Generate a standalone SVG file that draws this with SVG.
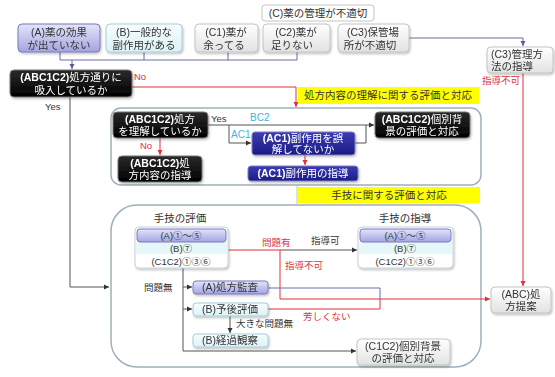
<svg xmlns="http://www.w3.org/2000/svg" width="555" height="377" viewBox="0 0 555 377">
<style>
text{font-family:"Liberation Sans","Noto Sans CJK JP",sans-serif;font-size:10.5px;fill:#333;text-anchor:middle}
.j{font-family:"Noto Sans CJK JP",sans-serif}
.st{font-size:9.5px}
.w{fill:#fff}
.b{font-weight:bold}
.s{font-size:9.5px}
.r{fill:#e0303c}
.l{text-anchor:start}
.cy{fill:#3fb4dc;font-size:10px}
.ln{fill:none;stroke:#555;stroke-width:1}
.lp{fill:none;stroke:#6a6aa8;stroke-width:1}
.lr{fill:none;stroke:#e0303c;stroke-width:1}
.lg{fill:none;stroke:#b8c4c8;stroke-width:1}
.box{stroke:#c4c4c4;stroke-width:1}
.pur{fill:url(#gp);stroke:#7a7ac0;stroke-width:1}
.cyb{fill:url(#gc);stroke:#a8cdd6;stroke-width:1}
.gry{fill:url(#gg);stroke:#c4c4c4;stroke-width:1}
.blk{fill:url(#gk);stroke:#777;stroke-width:1}
.blu{fill:url(#gb);stroke:#8080c0;stroke-width:1}
.cont{fill:#fff;stroke:#9fb0b8;stroke-width:1.5}
.yel{fill:#ffff00}
</style>
<defs>
<linearGradient id="gp" x1="0" y1="0" x2="0" y2="1"><stop offset="0" stop-color="#e4e4fb"/><stop offset="1" stop-color="#a4a4e0"/></linearGradient>
<linearGradient id="gc" x1="0" y1="0" x2="0" y2="1"><stop offset="0" stop-color="#f6fdfe"/><stop offset="1" stop-color="#dcf2f6"/></linearGradient>
<linearGradient id="gg" x1="0" y1="0" x2="0" y2="1"><stop offset="0" stop-color="#ffffff"/><stop offset="1" stop-color="#e2e2e2"/></linearGradient>
<linearGradient id="gk" x1="0" y1="0" x2="0" y2="1"><stop offset="0" stop-color="#2a2a2a"/><stop offset="1" stop-color="#000"/></linearGradient>
<linearGradient id="gb" x1="0" y1="0" x2="0" y2="1"><stop offset="0" stop-color="#3c3cb4"/><stop offset="1" stop-color="#1c1c84"/></linearGradient>
<filter id="sh" x="-10%" y="-20%" width="130%" height="160%"><feDropShadow dx="1" dy="1.5" stdDeviation="1.2" flood-color="#000" flood-opacity="0.25"/></filter>
<marker id="ak" markerWidth="6" markerHeight="6" refX="5" refY="3" orient="auto" markerUnits="userSpaceOnUse"><path d="M0,0.5 L5,3 L0,5.5z" fill="#333"/></marker>
<marker id="ar" markerWidth="6" markerHeight="6" refX="5" refY="3" orient="auto" markerUnits="userSpaceOnUse"><path d="M0,0.5 L5,3 L0,5.5z" fill="#e0303c"/></marker>
<marker id="ap" markerWidth="6" markerHeight="6" refX="5" refY="3" orient="auto" markerUnits="userSpaceOnUse"><path d="M0,0.5 L5,3 L0,5.5z" fill="#5a5aa0"/></marker>
</defs>

<g id="containers">
<rect class="cont" x="111" y="108" width="370" height="77" rx="10"/>
<rect class="cont" x="111" y="205" width="370" height="162" rx="26"/>
</g>

<g id="connectors">
<path class="lp" d="M60,52V60M144,52V60M228,52V60M297,52V60M60,60H297"/>
<path class="lp" d="M72,60V69" marker-end="url(#ap)"/>
<path class="lp" d="M409,38H523V46" marker-end="url(#ap)"/>
<path class="lr" d="M523,73V286" marker-end="url(#ar)"/>
<path class="lr" d="M132,87H296V107" marker-end="url(#ar)"/>
<path class="ln" d="M70,97V287H109" marker-end="url(#ak)"/>
<path class="ln" d="M208,125H374" marker-end="url(#ak)"/>
<path class="ln" d="M229,125V143H251" marker-end="url(#ak)"/>
<path class="ln" d="M355,143H366V125"/>
<path class="lr" d="M305,155V165" marker-end="url(#ar)"/>
<path class="lr" d="M160,138V155" marker-end="url(#ar)"/>
<path class="lg" d="M297,185V205"/>
<path class="lr" d="M228,250H280"/>
<path class="ln" d="M280,250H357" marker-end="url(#ak)"/>
<path class="lr" d="M280,250V299H490" marker-end="url(#ar)"/>
<path class="ln" d="M183,268V351H356" marker-end="url(#ak)"/>
<path class="ln" d="M183,287H192" marker-end="url(#ak)"/>
<path class="ln" d="M183,309H192" marker-end="url(#ak)"/>
<path class="ln" d="M230,316V333" marker-end="url(#ak)"/>
<path class="lp" d="M268,288H380V299"/>
<path class="lr" d="M268,309H380V299"/>
</g>

<g id="labels">
<text class="s r l" x="134" y="80">No</text>
<text class="s l" x="45" y="110">Yes</text>
<text class="s l" x="211" y="122">Yes</text>
<text class="s r l" x="140" y="149">No</text>
<text class="cy l" x="250" y="121">BC2</text>
<text class="cy l" x="231" y="138">AC1</text>
<text class="s r l" x="482" y="84">指導不可</text>
<text class="s r l" x="262" y="246">問題有</text>
<text class="s l" x="311" y="244">指導可</text>
<text class="s r l" x="285" y="269">指導不可</text>
<text class="s l" x="144" y="291">問題無</text>
<text class="s l" x="236" y="327">大きな問題無</text>
<text class="s r l" x="303" y="320">芳しくない</text>
</g>

<g id="title-C">
<rect x="262" y="5" width="112" height="16" rx="3" fill="#fff" class="box"/>
<text x="318" y="17">(C)薬の管理が不適切</text>
</g>

<g id="node-A" filter="url(#sh)">
<rect class="pur" x="18" y="24" width="82" height="28" rx="4"/>
<text x="59" y="36">(A)薬の効果</text><text x="59" y="49">が出ていない</text>
</g>
<g id="node-B" filter="url(#sh)">
<rect class="cyb" x="106" y="24" width="76" height="28" rx="4"/>
<text x="144" y="36">(B)一般的な</text><text x="144" y="49">副作用がある</text>
</g>
<g id="node-C1" filter="url(#sh)">
<rect class="gry" x="195" y="24" width="63" height="28" rx="4"/>
<text x="226" y="36">(C1)薬が</text><text x="224" y="49">余ってる</text>
</g>
<g id="node-C2" filter="url(#sh)">
<rect class="gry" x="263" y="24" width="67" height="28" rx="4"/>
<text x="296" y="36">(C2)薬が</text><text x="292" y="49">足りない</text>
</g>
<g id="node-C3" filter="url(#sh)">
<rect class="gry" x="338" y="24" width="71" height="28" rx="4"/>
<text x="373" y="36">(C3)保管場</text><text x="370" y="49">所が不適切</text>
</g>
<g id="node-C3guide" filter="url(#sh)">
<rect class="gry" x="487" y="47" width="66" height="26" rx="4"/>
<text class="l" x="491" y="58">(C3)管理方</text><text class="l" x="491" y="70">法の指導</text>
</g>
<g id="node-ABCpropose" filter="url(#sh)">
<rect class="gry" x="491" y="287" width="60" height="26" rx="4"/>
<text x="521" y="298">(ABC)処</text><text x="521" y="310">方提案</text>
</g>

<g id="node-inhale" filter="url(#sh)">
<rect class="blk" x="10" y="70" width="122" height="27" rx="4"/>
<text class="w" x="71" y="81"><tspan class="b">(ABC1C2)</tspan>処方通りに</text>
<text class="w" x="71" y="94">吸入しているか</text>
</g>

<g id="yellow1"><rect class="yel" x="298" y="87" width="181" height="17"/><text x="388" y="99">処方内容の理解に関する評価と対応</text></g>

<g id="node-understand" filter="url(#sh)">
<rect class="blk" x="113" y="112" width="95" height="26" rx="4"/>
<text class="w" x="160" y="123"><tspan class="b">(ABC1C2)</tspan>処方</text>
<text class="w" x="160" y="135">を理解しているか</text>
</g>
<g id="node-guide-content" filter="url(#sh)">
<rect class="blk" x="118" y="156" width="84" height="26" rx="4"/>
<text class="w" x="160" y="167"><tspan class="b">(ABC1C2)</tspan>処</text>
<text class="w" x="160" y="179">方内容の指導</text>
</g>
<g id="node-individual1" filter="url(#sh)">
<rect class="blk" x="375" y="112" width="95" height="26" rx="4"/>
<text class="w" x="422" y="123"><tspan class="b">(ABC1C2)</tspan>個別背</text>
<text class="w" x="422" y="135">景の評価と対応</text>
</g>
<g id="node-AC1-misunderstand" filter="url(#sh)">
<rect class="blu" x="252" y="132" width="103" height="23" rx="3"/>
<text class="w" x="303" y="142"><tspan class="b">(AC1)</tspan>副作用を誤</text>
<text class="w" x="303" y="153">解してないか</text>
</g>
<g id="node-AC1-guide" filter="url(#sh)">
<rect class="blu" x="248" y="166" width="110" height="15" rx="3"/>
<text class="w" x="303" y="177"><tspan class="b">(AC1)</tspan>副作用の指導</text>
</g>

<g id="yellow2"><rect class="yel" x="298" y="187" width="182" height="16"/><text x="389" y="199">手技に関する評価と対応</text></g>

<g id="node-tech-eval">
<text x="180" y="222">手技の評価</text>
<rect x="135" y="227" width="93" height="41" rx="4" fill="#fff" stroke="#c8d2d8" filter="url(#sh)"/>
<rect x="136" y="242" width="91" height="12" fill="#e6f7f9"/>
<rect class="pur" x="137" y="229" width="89" height="13" rx="3"/>
<text class="st" x="181" y="239">(A)<tspan class="j">①～⑤</tspan></text>
<text class="st" x="181" y="252">(B)<tspan class="j">⑦</tspan></text>
<text class="st" x="181" y="265">(C1C2)<tspan class="j">①③⑥</tspan></text>
</g>
<g id="node-tech-guide">
<text x="405" y="222">手技の指導</text>
<rect x="358" y="227" width="95" height="41" rx="4" fill="#fff" stroke="#c8d2d8" filter="url(#sh)"/>
<rect x="359" y="242" width="93" height="12" fill="#e6f7f9"/>
<rect class="pur" x="360" y="229" width="91" height="13" rx="3"/>
<text class="st" x="405" y="239">(A)<tspan class="j">①～⑤</tspan></text>
<text class="st" x="405" y="252">(B)<tspan class="j">⑦</tspan></text>
<text class="st" x="405" y="265">(C1C2)<tspan class="j">①③⑥</tspan></text>
</g>

<g id="node-audit" filter="url(#sh)">
<rect class="pur" x="193" y="281" width="75" height="13" rx="3"/>
<text x="230" y="291">(A)処方監査</text>
</g>
<g id="node-prognosis" filter="url(#sh)">
<rect class="cyb" x="193" y="303" width="75" height="13" rx="3"/>
<text x="230" y="313">(B)予後評価</text>
</g>
<g id="node-observe" filter="url(#sh)">
<rect class="cyb" x="193" y="334" width="75" height="13" rx="3"/>
<text x="230" y="344">(B)経過観察</text>
</g>
<g id="node-individual2" filter="url(#sh)">
<rect class="gry" x="357" y="339" width="93" height="26" rx="4"/>
<text x="403" y="350">(C1C2)個別背景</text>
<text x="403" y="362">の評価と対応</text>
</g>
</svg>
